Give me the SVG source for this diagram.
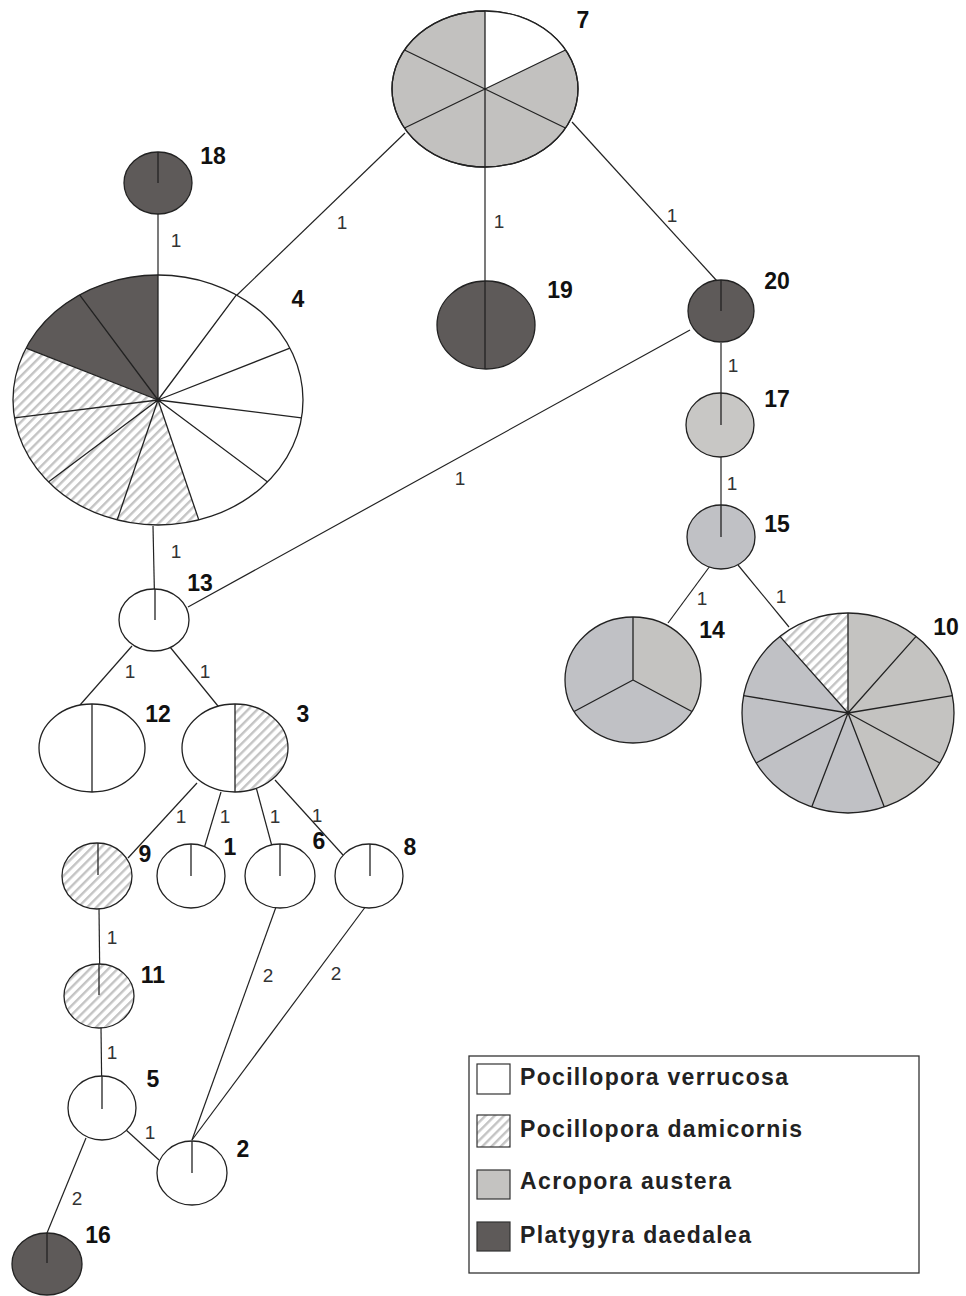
<svg xmlns="http://www.w3.org/2000/svg" width="966" height="1296" viewBox="0 0 966 1296">
<style>
.n{stroke:#222;stroke-width:1.3}
.w{fill:#fff}
.d{fill:#5e5a59}
.g{fill:#c4c3c1}
.b{fill:#c0c1c5}
.h{fill:url(#hatch)}
.ln{stroke:#222;stroke-width:1.3;fill:none}
.e{stroke:#222;stroke-width:1.2;fill:none}
.lab{font-family:"Liberation Sans",Arial,sans-serif;font-weight:bold;font-size:23px;fill:#111;text-anchor:middle}
.el{font-family:"Liberation Sans",Arial,sans-serif;font-size:19px;fill:#333;text-anchor:middle}
.lg{font-family:"Liberation Sans",Arial,sans-serif;font-weight:bold;font-size:23px;fill:#222}
</style>
<defs>
<pattern id="hatch" patternUnits="userSpaceOnUse" width="6.5" height="6.5" patternTransform="rotate(45)">
<rect width="6.5" height="6.5" fill="#fff"/>
<rect width="2.4" height="6.5" fill="#c4c4c4"/>
</pattern>
</defs>
<rect width="966" height="1296" fill="#fff"/>
<g id="connectors">
<line class="e" x1="405" y1="133" x2="236" y2="296"/>
<line class="e" x1="485" y1="167" x2="485" y2="282"/>
<line class="e" x1="572" y1="122" x2="717" y2="281"/>
<line class="e" x1="158" y1="214" x2="158" y2="275"/>
<line class="e" x1="721" y1="343" x2="721" y2="425"/>
<line class="e" x1="721" y1="457" x2="721" y2="537"/>
<line class="e" x1="710" y1="566" x2="668" y2="623"/>
<line class="e" x1="738" y1="565" x2="789" y2="627"/>
<line class="e" x1="690" y1="330" x2="188" y2="607"/>
<line class="e" x1="153" y1="526" x2="155" y2="620"/>
<line class="e" x1="132" y1="646" x2="80" y2="705"/>
<line class="e" x1="170" y1="647" x2="222" y2="711"/>
<line class="e" x1="197" y1="783" x2="128" y2="858"/>
<line class="e" x1="221" y1="792" x2="203" y2="852"/>
<line class="e" x1="256" y1="787" x2="273" y2="850"/>
<line class="e" x1="275" y1="780" x2="343" y2="855"/>
<line class="e" x1="99" y1="908" x2="100" y2="996"/>
<line class="e" x1="101" y1="1028" x2="102" y2="1108"/>
<line class="e" x1="125" y1="1129" x2="159" y2="1160"/>
<line class="e" x1="276" y1="907" x2="192" y2="1140"/>
<line class="e" x1="366" y1="906" x2="192" y2="1140"/>
<line class="e" x1="86" y1="1138" x2="47" y2="1233"/>
<text class="el" x="342" y="229">1</text>
<text class="el" x="499" y="228">1</text>
<text class="el" x="672" y="222">1</text>
<text class="el" x="176" y="247">1</text>
<text class="el" x="733" y="372">1</text>
<text class="el" x="732" y="490">1</text>
<text class="el" x="702" y="605">1</text>
<text class="el" x="781" y="603">1</text>
<text class="el" x="460" y="485">1</text>
<text class="el" x="176" y="558">1</text>
<text class="el" x="130" y="678">1</text>
<text class="el" x="205" y="678">1</text>
<text class="el" x="181" y="823">1</text>
<text class="el" x="225" y="823">1</text>
<text class="el" x="275" y="823">1</text>
<text class="el" x="317" y="822">1</text>
<text class="el" x="112" y="944">1</text>
<text class="el" x="112" y="1059">1</text>
<text class="el" x="150" y="1139">1</text>
<text class="el" x="268" y="982">2</text>
<text class="el" x="336" y="980">2</text>
<text class="el" x="77" y="1205">2</text>
</g>
<g id="node7">
<ellipse class="n" cx="485" cy="89" rx="93" ry="78" fill="#c2c1bf"/>
<path class="w" d="M485,89 L485,11 A93,78 0 0,1 565.5,50 Z"/>
<path class="ln" d="M485,11 L485,167 M565.5,50 L404.5,128 M565.5,128 L404.5,50"/>
<ellipse class="ln" cx="485" cy="89" rx="93" ry="78"/>
<text class="lab" x="583" y="28">7</text>
</g>
<g id="node18">
<ellipse class="n d" cx="158" cy="183" rx="34" ry="31"/>
<line class="ln" x1="158" y1="152" x2="158" y2="183"/>
<text class="lab" x="213" y="164">18</text>
</g>
<g id="node4">
<ellipse class="w" cx="158" cy="400" rx="145" ry="125"/>
<path class="h" d="M158,400 L198.8,519.9 A145,125 0 0,1 26.1,348.1 Z"/>
<path class="d" d="M158,400 L26.1,348.1 A145,125 0 0,1 158,275 Z"/>
<path class="ln" d="M158,400 L158,275 M158,400 L236.4,294.8 M158,400 L289.9,348.1 M158,400 L301.5,417.8 M158,400 L267.6,481.9 M158,400 L198.8,519.9 M158,400 L117.2,519.9 M158,400 L48.4,481.9 M158,400 L14.5,417.8 M158,400 L26.1,348.1 M158,400 L79.6,294.8"/>
<ellipse class="ln" cx="158" cy="400" rx="145" ry="125"/>
<text class="lab" x="298" y="307">4</text>
</g>
<g id="node19">
<ellipse class="n d" cx="486" cy="325" rx="49" ry="44"/>
<line class="ln" x1="485" y1="281" x2="485" y2="369"/>
<text class="lab" x="560" y="298">19</text>
</g>
<g id="node20">
<ellipse class="n d" cx="721" cy="311" rx="33" ry="31"/>
<line class="ln" x1="721" y1="280" x2="721" y2="311"/>
<text class="lab" x="777" y="289">20</text>
</g>
<g id="node17">
<ellipse class="n" cx="720" cy="425" rx="34" ry="32" fill="#c8c7c5"/>
<line class="ln" x1="721" y1="393" x2="721" y2="425"/>
<text class="lab" x="777" y="407">17</text>
</g>
<g id="node15">
<ellipse class="n b" cx="721" cy="537" rx="34" ry="32"/>
<line class="ln" x1="721" y1="505" x2="721" y2="537"/>
<text class="lab" x="777" y="532">15</text>
</g>
<g id="node14">
<ellipse class="b" cx="633" cy="680" rx="68" ry="63"/>
<path class="g" d="M633,680 L633,617 A68,63 0 0,1 691.9,711.5 Z"/>
<path class="ln" d="M633,680 L633,617 M633,680 L691.9,711.5 M633,680 L574.1,711.5"/>
<ellipse class="ln" cx="633" cy="680" rx="68" ry="63"/>
<text class="lab" x="712" y="638">14</text>
</g>
<g id="node10">
<ellipse class="b" cx="848" cy="713" rx="106" ry="100"/>
<path class="g" d="M848,713 L848,613 A106,100 0 0,1 884.3,807 Z"/>
<path class="h" d="M848,713 L779.9,636.4 A106,100 0 0,1 848,613 Z"/>
<path class="ln" d="M848,713 L848,613 M848,713 L916.1,636.4 M848,713 L952.4,695.6 M848,713 L939.8,763 M848,713 L884.3,807 M848,713 L811.7,807 M848,713 L756.2,763 M848,713 L743.6,695.6 M848,713 L779.9,636.4"/>
<ellipse class="ln" cx="848" cy="713" rx="106" ry="100"/>
<text class="lab" x="946" y="635">10</text>
</g>
<g id="node13">
<ellipse class="n w" cx="154" cy="620" rx="35" ry="31"/>
<line class="ln" x1="155" y1="589" x2="155" y2="620"/>
<text class="lab" x="200" y="591">13</text>
</g>
<g id="node12">
<ellipse class="n w" cx="92" cy="748" rx="53" ry="44"/>
<line class="ln" x1="92" y1="704" x2="92" y2="792"/>
<text class="lab" x="158" y="722">12</text>
</g>
<g id="node3">
<ellipse class="w" cx="235" cy="748" rx="53" ry="44"/>
<path class="h" d="M235,704 A53,44 0 0,1 235,792 Z"/>
<line class="ln" x1="235" y1="704" x2="235" y2="792"/>
<ellipse class="ln" cx="235" cy="748" rx="53" ry="44"/>
<text class="lab" x="303" y="722">3</text>
</g>
<g id="node9">
<ellipse class="n h" cx="97" cy="876" rx="35" ry="33"/>
<line class="ln" x1="98" y1="843" x2="98" y2="875"/>
<text class="lab" x="145" y="862">9</text>
</g>
<g id="node1">
<ellipse class="n w" cx="191" cy="876" rx="34" ry="32"/>
<line class="ln" x1="191" y1="844" x2="191" y2="876"/>
<text class="lab" x="230" y="855">1</text>
</g>
<g id="node6">
<ellipse class="n w" cx="280" cy="876" rx="35" ry="32"/>
<line class="ln" x1="280" y1="844" x2="280" y2="876"/>
<text class="lab" x="319" y="849">6</text>
</g>
<g id="node8">
<ellipse class="n w" cx="369" cy="876" rx="34" ry="32"/>
<line class="ln" x1="370" y1="844" x2="370" y2="876"/>
<text class="lab" x="410" y="855">8</text>
</g>
<g id="node11">
<ellipse class="n h" cx="99" cy="996" rx="35" ry="32"/>
<line class="ln" x1="99" y1="964" x2="99" y2="995"/>
<text class="lab" x="153" y="983">11</text>
</g>
<g id="node5">
<ellipse class="n w" cx="102" cy="1108" rx="34" ry="32"/>
<line class="ln" x1="102" y1="1076" x2="102" y2="1109"/>
<text class="lab" x="153" y="1087">5</text>
</g>
<g id="node2">
<ellipse class="n w" cx="192" cy="1173" rx="35" ry="32"/>
<line class="ln" x1="192" y1="1141" x2="192" y2="1173"/>
<text class="lab" x="243" y="1157">2</text>
</g>
<g id="node16">
<ellipse class="n d" cx="47" cy="1264" rx="35" ry="31"/>
<line class="ln" x1="47" y1="1233" x2="47" y2="1263"/>
<text class="lab" x="98" y="1243">16</text>
</g>
<g id="legend">
<rect x="469" y="1056" width="450" height="217" fill="#fff" stroke="#333" stroke-width="1.3"/>
<rect x="477" y="1064" width="33" height="30" class="w" stroke="#333" stroke-width="1.2"/>
<rect x="477" y="1115" width="33" height="32" class="h" stroke="#333" stroke-width="1.2"/>
<rect x="477" y="1170" width="33" height="29" class="g" stroke="#333" stroke-width="1.2"/>
<rect x="477" y="1222" width="33" height="29" class="d" stroke="#333" stroke-width="1.2"/>
<text class="lg" x="520" y="1085" textLength="268" lengthAdjust="spacing">Pocillopora verrucosa</text>
<text class="lg" x="520" y="1137" textLength="282" lengthAdjust="spacing">Pocillopora damicornis</text>
<text class="lg" x="520" y="1189" textLength="211" lengthAdjust="spacing">Acropora austera</text>
<text class="lg" x="520" y="1243" textLength="231" lengthAdjust="spacing">Platygyra daedalea</text>
</g>
</svg>
